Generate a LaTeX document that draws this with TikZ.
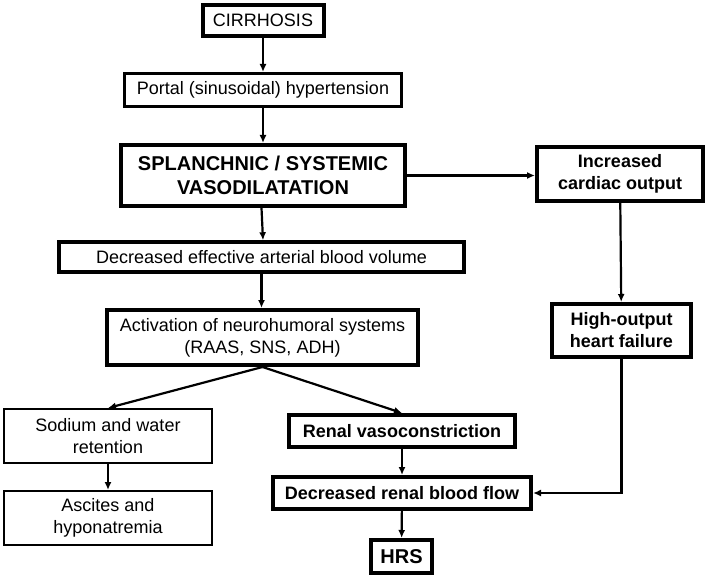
\documentclass[tikz,border=0pt]{standalone}
\usepackage{fontspec}
\setmainfont{Liberation Sans}
\usetikzlibrary{arrows.meta}
\begin{document}
\begin{tikzpicture}[x=1pt,y=-1pt,
  box/.style={draw=black, line width=4pt, align=center, inner sep=0pt,
     font=\fontsize{18}{22}\selectfont},
  medbox/.style={box, line width=3pt},
  thinbox/.style={box, line width=2pt},
  bold/.style={font=\fontsize{18}{22}\selectfont\bfseries},
  big/.style={font=\fontsize{20}{24}\selectfont\bfseries},
  arr/.style={draw=black, line width=2.2pt, -{Latex[length=8pt,width=7pt]}}
]
\useasboundingbox (0,0) rectangle (709,580);
\node[box, minimum width=121pt, minimum height=31pt] (cir) at (263,20.5) {CIRRHOSIS};
\node[medbox, minimum width=277pt, minimum height=33pt] (portal) at (263,90) {Portal (sinusoidal) hypertension};
\node[box, big, minimum width=284pt, minimum height=61pt] (spl) at (263,175.5) {SPLANCHNIC / SYSTEMIC\\VASODILATATION};
\node[box, line width=3.5pt, minimum width=405pt, minimum height=30pt] (deav) at (261.5,257) {Decreased effective arterial blood volume};
\node[box, minimum width=311pt, minimum height=55pt] (act) at (262.5,337.5) {Activation of neurohumoral systems\\(RAAS, SNS, ADH)};
\node[thinbox, minimum width=208pt, minimum height=54pt] (sod) at (108,436) {Sodium and water\\retention};
\node[thinbox, minimum width=208pt, minimum height=54pt] (asc) at (108,518) {Ascites and\\hyponatremia};
\node[box, bold, minimum width=226pt, minimum height=32pt] (rvc) at (402,431) {Renal vasoconstriction};
\node[box, bold, minimum width=258pt, minimum height=32pt] (drbf) at (402,493) {Decreased renal blood flow};
\node[box, big, minimum width=61pt, minimum height=33pt] (hrs) at (401.5,556.5) {HRS};
\node[box, bold, minimum width=166pt, minimum height=54pt] (co) at (620,174) {Increased\\cardiac output};
\node[box, bold, minimum width=139pt, minimum height=53pt] (hof) at (621.5,330.5) {High-output\\heart failure};

\draw[arr] (cir) -- (portal);
\draw[arr] (portal) -- (spl);
\draw[arr] (spl.south -| deav.north) -- (deav.north -| spl.south);
\draw[arr] (deav.south) -- (deav.south |- act.north);
\draw[arr] (act.south) -- (sod.north);
\draw[arr] (act.south) -- (rvc.north);
\draw[arr] (sod) -- (asc);
\draw[arr] (rvc) -- (drbf);
\draw[arr] (drbf) -- (hrs);
\draw[arr] (spl.east) -- (spl.east -| co.west);
\draw[arr] (co) -- (hof);
\draw[arr] (hof.south) |- (drbf.east);
\end{tikzpicture}
\end{document}
